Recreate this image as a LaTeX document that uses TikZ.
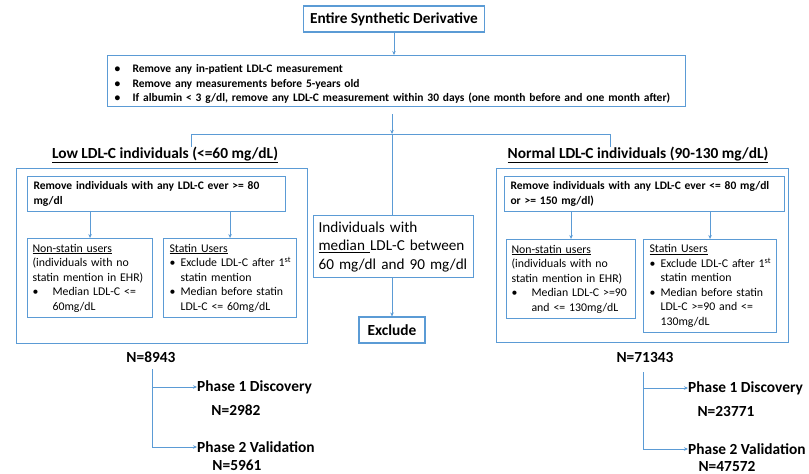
\documentclass[tikz,border=0pt]{standalone}
\usepackage{fontspec}
\setmainfont{Carlito}
\usetikzlibrary{positioning,arrows.meta}
\definecolor{flowblue}{RGB}{91,155,213}
% bullet paragraph with hanging indent
\newcommand{\bul}[2]{\par\noindent\hangindent=#1\hangafter=1\makebox[#1][l]{\textbullet}#2\par}

\begin{document}
\begin{tikzpicture}[x=1pt,y=-1pt,
  box/.style={draw=flowblue, line width=1.1pt, inner xsep=6pt, inner ysep=0pt, align=left, anchor=north west},
  hdr/.style={font={\bfseries\fontsize{15.4}{17}\selectfont}, inner sep=0pt},
  small/.style={font={\fontsize{11.8}{14.5}\selectfont}},
  smallb/.style={font={\bfseries\fontsize{11.5}{14.5}\selectfont}},
  link/.style={draw=flowblue, line width=0.9pt},
  arr/.style={link, -{Stealth[length=4pt,width=3.5pt]}}]
 \useasboundingbox (0,0) rectangle (809,474);
 % top of the flow
 \node[box, anchor=center, align=center, minimum width=181pt, minimum height=26pt, font={\bfseries\fontsize{15.3}{18}\selectfont}] (entire) at (394,19) {Entire Synthetic Derivative};
 \node[box, font={\bfseries\fontsize{11.5}{14.5}\selectfont}, inner xsep=7pt, minimum width=578pt, minimum height=51pt, text width=564pt] (rules) at (107,55) {\bul{18pt}{Remove any in-patient LDL-C measurement}\bul{18pt}{Remove any measurements before 5-years old}\bul{18pt}{If albumin < 3 g/dl, remove any LDL-C measurement within 30 days (one month before and one month after)}};
 % the two groups
 \node[hdr] (lowtitle) at (165,155) {\underline{Low LDL-C individuals (<=60 mg/dL)}};
 \node[hdr] (normtitle) at (638,155) {\underline{Normal LDL-C individuals (90-130 mg/dL)}};
 \node[box, minimum width=291pt, minimum height=175pt] (lowgroup) at (16,168) {};
 \node[box, minimum width=292pt, minimum height=174pt] (normgroup) at (496,168) {};
 \node[box, smallb, minimum width=258pt, minimum height=35pt, text width=246pt] (lowfilter) at (27,176) {Remove individuals with any LDL-C ever >= 80\\mg/dl};
 \node[box, smallb, minimum width=280pt, minimum height=35pt, text width=268pt] (normfilter) at (504,176) {Remove individuals with any LDL-C ever <= 80 mg/dl\\or >= 150 mg/dl)};
 \node[box, small, inner xsep=5pt, minimum width=125pt, minimum height=79pt, text width=115pt] (lownon) at (27,238) {\underline{Non-statin users}\\(individuals with no\\statin mention in EHR)\par\bul{20pt}{Median LDL-C <=\newline 60mg/dL}};
 \node[box, small, minimum width=133pt, minimum height=79pt, text width=121pt] (lowstat) at (163,238) {\underline{Statin Users}\par\bul{11pt}{\mbox{Exclude LDL-C after 1\textsuperscript{st}}\newline statin mention}\bul{11pt}{Median before statin\newline LDL-C <= 60mg/dL}};
 \node[box, small, inner xsep=5pt, minimum width=129pt, minimum height=79pt, text width=119pt] (normnon) at (506,239) {\underline{Non-statin users}\\(individuals with no\\statin mention in EHR)\par\bul{20pt}{Median LDL-C >=90\newline and <= 130mg/dL}};
 \node[box, small, minimum width=133pt, minimum height=93pt, text width=121pt] (normstat) at (643,239) {\underline{Statin Users}\par\bul{11pt}{\mbox{Exclude LDL-C after 1\textsuperscript{st}}\newline statin mention}\bul{11pt}{Median before statin\newline LDL-C >=90 and <=\newline 130mg/dL}};
 % middle branch
 \node[box, font={\fontsize{15.2}{18.5}\selectfont}, inner xsep=5pt, minimum width=160pt, minimum height=62pt, text width=150pt] (between) at (313,215) {Individuals with\\\underline{median\ }LDL-C between\\60 mg/dl and 90 mg/dl};
 \node[box, anchor=center, align=center, font={\bfseries\fontsize{15.4}{17}\selectfont}, minimum width=66pt, minimum height=26pt] (exclude) at (392,330) {Exclude};
 % counts
 \node[hdr] (lowN) at (151,357) {N=8943};
 \node[hdr, anchor=west] (lowdisc) at (197,387) {Phase 1 Discovery};
 \node[hdr] (lowdiscN) at (236,410) {N=2982};
 \node[hdr, anchor=west] (lowval) at (197,447) {Phase 2 Validation};
 \node[hdr] (lowvalN) at (237,465) {N=5961};
 \node[hdr] (normN) at (645,357) {N=71343};
 \node[hdr, anchor=west] (normdisc) at (688,388) {Phase 1 Discovery};
 \node[hdr] (normdiscN) at (726,411) {N=23771};
 \node[hdr, anchor=west] (normval) at (688,449) {Phase 2 Validation};
 \node[hdr] (normvalN) at (727,466) {N=47572};
 % connectors
 \coordinate (split) at (392,134);
 \coordinate (lowjoin) at (191,134);
 \coordinate (normjoin) at (610,134);
 \coordinate (lowtrunk) at (152,369);
 \coordinate (normtrunk) at (643,372);
 \draw[arr] (entire.south) -- (entire.south |- rules.north);
 \draw[arr, shorten <=7pt] (rules.south -| split) -- (split);
 \draw[link] (split) -- (split |- between.north);
 \draw[link] (lowtitle.north -| lowjoin) -- (lowjoin) -- (normjoin) -- (normtitle.north -| normjoin);
 \draw[arr] (between.south -| split) -- (exclude.north -| split);
 \draw[arr] (lowfilter.south -| lownon.north) -- (lownon.north);
 \draw[arr] (lowfilter.south -| lowstat.north) -- (lowstat.north);
 \draw[arr] (normfilter.south -| normnon.north) -- (normnon.north);
 \draw[arr] (normfilter.south -| normstat.north) -- (normstat.north);
 \draw[arr] (lowtrunk) |- (lowval.west);
 \draw[arr] (lowtrunk |- lowdisc.west) -- (lowdisc.west);
 \draw[arr] (normtrunk) |- (normval.west);
 \draw[arr] (normtrunk |- normdisc.west) -- (normdisc.west);
\end{tikzpicture}
\end{document}
